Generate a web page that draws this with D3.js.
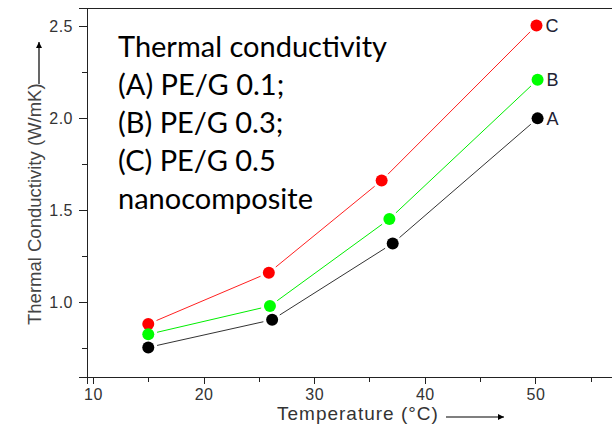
<!DOCTYPE html>
<html lang="en">
<head>
<meta charset="utf-8">
<title>Thermal Conductivity</title>
<script src="https://cdn.jsdelivr.net/npm/d3@7"></script>
<style>
    body { margin: 0; background: #fff; }
    .axis path, .axis line { fill: none; stroke: #222; shape-rendering: crispEdges; }
    .axis text { font-family: "Liberation Sans", Arial, sans-serif; font-size: 16px; fill: #333; }
</style>
</head>
<body>
<div id="chart"></div>
<script>

// Data
var series = ["A", "B", "C"];
var tempA = [15, 26.2, 37.1, 50.2];
var condA = [0.755, 0.905, 1.32, 2.00];
var tempB = [15, 26.0, 36.8, 50.2];
var condB = [0.826, 0.98, 1.453, 2.21];
var tempC = [15, 25.9, 36.1, 50.1];
var condC = [0.882, 1.161, 1.662, 2.505];
var xTicks = [10, 20, 30, 40, 50];
var xMinorTicks = [15, 25, 35, 45, 55];
var yTicks = [1.0, 1.5, 2.0, 2.5];
var yMinorTicks = [0.75, 1.25, 1.75, 2.25];
var noteLines = ["Thermal conductivity", "(A) PE/G 0.1;", "(B) PE/G 0.3;", "(C) PE/G 0.5", "nanocomposite"];

const WIDTH = 612, HEIGHT = 425;
const COLOURS = {A: "#000000", B: "#00ff00", C: "#ff0000"};
const LINECOLOURS = {A: "#333333", B: "#00ee00", C: "#ff2020"};

var data = {
    A: tempA.map(function(t, i) { return [t, condA[i]]; }),
    B: tempB.map(function(t, i) { return [t, condB[i]]; }),
    C: tempC.map(function(t, i) { return [t, condC[i]]; })
};

var svg = d3.select("#chart")
    .append("svg")
    .attr("width", WIDTH)
    .attr("height", HEIGHT);

var xScale = d3.scaleLinear()
    .domain([9.46, 58])
    .range([87, 87 + (58 - 9.46) * 11.06]);

var yScale = d3.scaleLinear()
    .domain([0.594, 2.60])
    .range([377, 8]);

svg.append("defs").append("marker")
    .attr("id", "arrow")
    .attr("viewBox", "0 0 10 10")
    .attr("refX", 10).attr("refY", 5)
    .attr("markerWidth", 10).attr("markerHeight", 6)
    .attr("markerUnits", "userSpaceOnUse")
    .attr("orient", "auto")
    .append("path")
    .attr("d", "M0,0 L10,5 L0,10 Z")
    .attr("fill", "#000");

// frame (top and right lines run off the picture)
svg.append("line")
    .attr("x1", xScale.range()[0]).attr("x2", xScale.range()[1])
    .attr("y1", yScale.range()[1] + 0.5).attr("y2", yScale.range()[1] + 0.5)
    .attr("stroke", "#222");

// x axis
svg.append("g")
    .attr("class", "axis")
    .attr("transform", "translate(0," + yScale.range()[0] + ")")
    .call(d3.axisBottom(xScale).tickValues(xTicks).tickSize(7).tickPadding(5).tickFormat(d3.format("d")))
    .call(function(g) { g.selectAll("text").attr("letter-spacing", "0.5px"); });

svg.append("g")
    .attr("class", "axis")
    .attr("transform", "translate(0," + yScale.range()[0] + ")")
    .call(d3.axisBottom(xScale).tickValues(xMinorTicks).tickSize(5).tickFormat(""))
    .call(function(g) { g.select(".domain").remove(); });

// y axis
svg.append("g")
    .attr("class", "axis")
    .attr("transform", "translate(" + xScale.range()[0] + ",0)")
    .call(d3.axisLeft(yScale).tickValues(yTicks).tickSize(8).tickPadding(6).tickFormat(d3.format(".1f")))
    .call(function(g) { g.selectAll("text").attr("letter-spacing", "0.5px"); });

svg.append("g")
    .attr("class", "axis")
    .attr("transform", "translate(" + xScale.range()[0] + ",0)")
    .call(d3.axisLeft(yScale).tickValues(yMinorTicks).tickSize(5).tickFormat(""))
    .call(function(g) { g.select(".domain").remove(); });

// axis titles with arrows
svg.append("text")
    .attr("x", 277).attr("y", 420)
    .attr("font-family", "Liberation Sans, Arial, sans-serif")
    .attr("font-size", "19px")
    .attr("letter-spacing", "1px")
    .attr("fill", "#333")
    .text("Temperature (°C)");

svg.append("line")
    .attr("x1", 446).attr("x2", 504)
    .attr("y1", 417).attr("y2", 417)
    .attr("stroke", "#000").attr("stroke-width", 1.2)
    .attr("marker-end", "url(#arrow)");

svg.append("text")
    .attr("transform", "translate(41,325) rotate(-90)")
    .attr("font-family", "Liberation Sans, Arial, sans-serif")
    .attr("font-size", "18.5px")
    .attr("fill", "#444")
    .text("Thermal Conductivity (W/mK)");

svg.append("line")
    .attr("x1", 39).attr("x2", 39)
    .attr("y1", 84).attr("y2", 42)
    .attr("stroke", "#000").attr("stroke-width", 1.2)
    .attr("marker-end", "url(#arrow)");

// lines stop a little short of each marker
var R = 6, GAP = 3;
function gappedPath(pts) {
    var p = pts.map(function(d) { return [xScale(d[0]), yScale(d[1])]; });
    var s = "";
    for (var i = 0; i < p.length - 1; i++) {
        var dx = p[i + 1][0] - p[i][0], dy = p[i + 1][1] - p[i][1];
        var len = Math.sqrt(dx * dx + dy * dy), k = (R + GAP) / len;
        s += "M" + (p[i][0] + dx * k) + "," + (p[i][1] + dy * k) +
             "L" + (p[i + 1][0] - dx * k) + "," + (p[i + 1][1] - dy * k);
    }
    return s;
}

for (var name of ["C", "B", "A"]) {
    svg.append("path")
        .attr("d", gappedPath(data[name]))
        .attr("fill", "none")
        .attr("stroke", LINECOLOURS[name])
        .attr("stroke-width", 1);

    svg.selectAll(".dot" + name)
        .data(data[name])
        .enter()
        .append("circle")
        .attr("class", "dot" + name)
        .attr("cx", function(d) { return xScale(d[0]); })
        .attr("cy", function(d) { return yScale(d[1]); })
        .attr("r", R)
        .attr("fill", COLOURS[name]);

    var last = data[name][data[name].length - 1];
    svg.append("text")
        .attr("x", xScale(last[0]) + 9)
        .attr("y", yScale(last[1]))
        .attr("dy", "0.36em")
        .attr("font-family", "Liberation Sans, Arial, sans-serif")
        .attr("font-size", "18px")
        .attr("fill", "#223")
        .text(name);
}

// annotation block
svg.append("g")
    .selectAll("text")
    .data(noteLines)
    .enter()
    .append("text")
    .attr("x", 118)
    .attr("y", function(d, i) { return 57 + i * 37.9; })
    .attr("font-family", "Lato, sans-serif")
    .attr("font-size", "29px")
    .attr("fill", "#000")
    .text(function(d) { return d; });

</script>
</body>
</html>
